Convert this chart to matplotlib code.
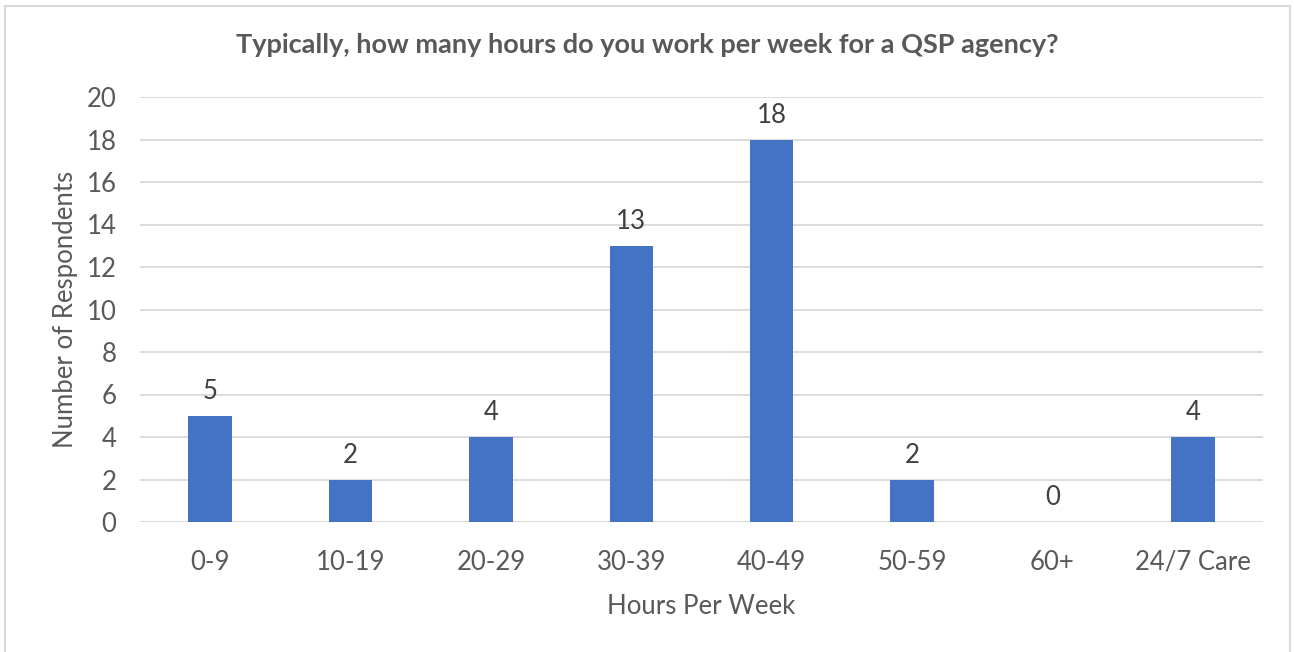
import matplotlib
matplotlib.use("Agg")
import matplotlib.pyplot as plt
from matplotlib.patches import Rectangle

categories = ["0-9", "10-19", "20-29", "30-39", "40-49", "50-59", "60+", "24/7 Care"]
values = [5, 2, 4, 13, 18, 2, 0, 4]
yticks = [0, 2, 4, 6, 8, 10, 12, 14, 16, 18, 20]

title = "Typically, how many hours do you work per week for a QSP agency?"
xlabel = "Hours Per Week"
ylabel = "Number of Respondents"

plt.rcParams['font.family'] = ['Lato', 'DejaVu Sans']
TXT = "#595959"
BAR = "#4472C4"
GRID = "#D9D9D9"

fig = plt.figure(figsize=(12.94, 6.52), dpi=100)
fig.patches.append(Rectangle((5/1294, -0.05), 1285/1294, 1.05 - 6/652, transform=fig.transFigure,
                             fill=False, edgecolor="#D9D9D9", linewidth=1.5))
ax = fig.add_axes([140/1294, 1 - 522/652, 1123/1294, 425/652])

x = list(range(len(categories)))
ax.bar(x, values, width=0.31, color=BAR, zorder=3)
for xi, v in zip(x, values):
    ax.text(xi, v + 0.55, str(v), ha="center", va="bottom", fontsize=18.5, color="#404040")

ax.set_xlim(-0.5, len(categories) - 0.5)
ax.set_ylim(0, 20)
ax.set_yticks(yticks)
ax.set_yticklabels([str(t) for t in yticks], fontsize=18.5, color=TXT)
ax.set_xticks(x)
ax.set_xticklabels(categories, fontsize=18.5, color=TXT)
ax.tick_params(axis="both", length=0)
ax.tick_params(axis="x", pad=20)
ax.tick_params(axis="y", pad=17)
ax.grid(axis="y", color=GRID, linewidth=1.3, zorder=0)
for s in ["top", "right", "left", "bottom"]:
    ax.spines[s].set_visible(False)

ax.set_xlabel(xlabel, fontsize=18.5, color=TXT, labelpad=14)
ax.set_ylabel(ylabel, fontsize=18.5, color=TXT, labelpad=6)
fig.text(647/1294, 1 - 45/652, title, ha="center", va="center", fontsize=19.5,
         fontweight="bold", color=TXT)

fig.savefig("out.png", dpi=100)
